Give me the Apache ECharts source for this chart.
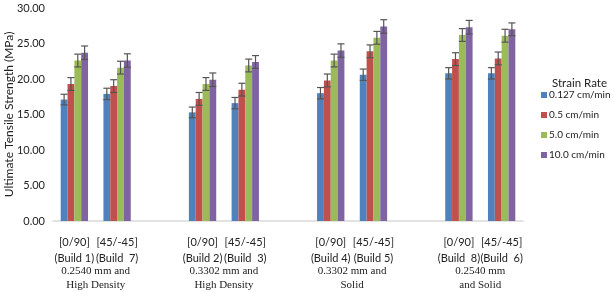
<!DOCTYPE html>
<html><head><meta charset="utf-8">
<script src="https://cdn.jsdelivr.net/npm/echarts@6/dist/echarts.min.js"></script>
<style>html,body{margin:0;padding:0;background:#fff}#c{width:611px;height:292px}</style>
</head><body><div id="c"></div>
<script>
const categories = ['[0/90]\n(Build 1)', '[45/-45]\n(Build  7)', '', '[0/90]\n(Build 2)', '[45/-45]\n(Build  3)', '', '[0/90]\n(Build 4)', '[45/-45]\n(Build 5)', '', '[0/90]\n(Build  8)', '[45/-45]\n(Build  6)'];
const groupLabels = {1: '0.2540 mm and\nHigh Density', 4: '0.3302 mm and\nHigh Density', 7: '0.3302 mm and\nSolid', 10: '0.2540 mm\nand Solid'};
const seriesNames = ['0.127 cm/min', '0.5 cm/min', '5.0 cm/min', '10.0 cm/min'];
const s0127 = [17.1, 17.9, '-', 15.3, 16.6, '-', 18.0, 20.6, '-', 20.8, 20.8];
const s05   = [19.3, 19.0, '-', 17.2, 18.5, '-', 19.8, 23.9, '-', 22.8, 22.9];
const s50   = [22.6, 21.6, '-', 19.3, 21.9, '-', 22.6, 25.8, '-', 26.2, 26.1];
const s100  = [23.7, 22.6, '-', 19.9, 22.4, '-', 24.0, 27.4, '-', 27.3, 27.0];
const e0127 = [0.75, 0.8, '-', 0.75, 0.8, '-', 0.8, 0.8, '-', 0.8, 0.8];
const e05   = [0.9, 0.9, '-', 0.9, 0.9, '-', 0.9, 0.9, '-', 0.9, 0.9];
const e50   = [0.9, 0.9, '-', 0.9, 0.9, '-', 0.9, 0.9, '-', 0.9, 0.9];
const e100  = [0.95, 0.95, '-', 0.95, 0.9, '-', 0.95, 0.95, '-', 0.95, 0.9];
const colors = ['#4F81BD', '#C0504D', '#9BBB59', '#8064A2'];
const values = [s0127, s05, s50, s100];
const errors = [e0127, e05, e50, e100];

const chart = echarts.init(document.getElementById('c'));
const GAP = 0.36;
const series = [];
values.forEach((v, i) => {
  series.push({
    name: seriesNames[i], type: 'bar', data: v, barGap: '0%', barCategoryGap: (GAP*100)+'%',
    itemStyle: {color: colors[i]}
  });
});
values.forEach((v, i) => {
  const data = [];
  v.forEach((val, k) => { if (val !== '-') data.push([k, val, errors[i][k]]); });
  series.push({
    type: 'custom', name: seriesNames[i] + ' err', z: 10, silent: true,
    data: data,
    renderItem: function (params, api) {
      const k = api.value(0), val = api.value(1), e = api.value(2);
      const band = api.size([1, 0])[0];
      const bw = band * (1 - GAP) / 4;
      const x = api.coord([k, val])[0] + (i - 1.5) * bw;
      const yh = api.coord([k, val + e])[1];
      const yl = api.coord([k, val - e])[1];
      const cap = 3.5;
      const style = {stroke: '#555', lineWidth: 1.2, fill: null};
      return {type: 'group', children: [
        {type: 'line', shape: {x1: x, y1: yh, x2: x, y2: yl}, style: style},
        {type: 'line', shape: {x1: x - cap, y1: yh, x2: x + cap, y2: yh}, style: style},
        {type: 'line', shape: {x1: x - cap, y1: yl, x2: x + cap, y2: yl}, style: style}
      ]};
    }
  });
});

chart.setOption({
  animation: false,
  textStyle: {fontFamily: 'Lato'},
  grid: {left: 53, right: 88, top: 8, bottom: 71, containLabel: false, outerBoundsMode: 'none'},
  title: {text: 'Strain Rate', left: 552, top: 77, padding: 0, textStyle: {fontSize: 11.5, fontWeight: 'normal', color: '#222', fontFamily: 'Lato'}},
  legend: {
    data: seriesNames, orient: 'vertical', left: 541, top: 90, itemWidth: 6, itemHeight: 6, itemGap: 10,
    padding: 0, icon: 'rect', textStyle: {fontSize: 10, color: '#222', fontFamily: 'Lato', padding: [0, 0, 0, -3]}
  },
  xAxis: [{
    type: 'category', data: categories, position: 'bottom',
    axisLine: {lineStyle: {color: '#D9D9D9', width: 1.5}}, axisTick: {show: false},
    axisLabel: {interval: 0, fontSize: 11, color: '#222', lineHeight: 16, margin: 13, fontFamily: 'Lato'}
  }, {
    type: 'value', min: 0, max: 11, interval: 1, position: 'bottom', offset: 35,
    axisLine: {show: false}, axisTick: {show: false}, splitLine: {show: false},
    axisLabel: {formatter: v => groupLabels[v] || '', fontSize: 11, color: '#222', lineHeight: 14, fontFamily: 'Liberation Serif', showMinLabel: true, showMaxLabel: true}
  }],
  yAxis: {
    type: 'value', min: 0, max: 30, interval: 5,
    name: 'Ultimate Tensile Strength (MPa)', nameLocation: 'middle', nameGap: 38, nameMoveOverlap: false,
    nameTextStyle: {fontSize: 12, color: '#222', fontFamily: 'Lato'},
    axisLine: {show: false}, axisTick: {show: false}, splitLine: {show: false},
    axisLabel: {formatter: v => v.toFixed(2), fontSize: 11, color: '#222', margin: 8, fontFamily: 'Lato'}
  },
  series: series
});
</script></body></html>
